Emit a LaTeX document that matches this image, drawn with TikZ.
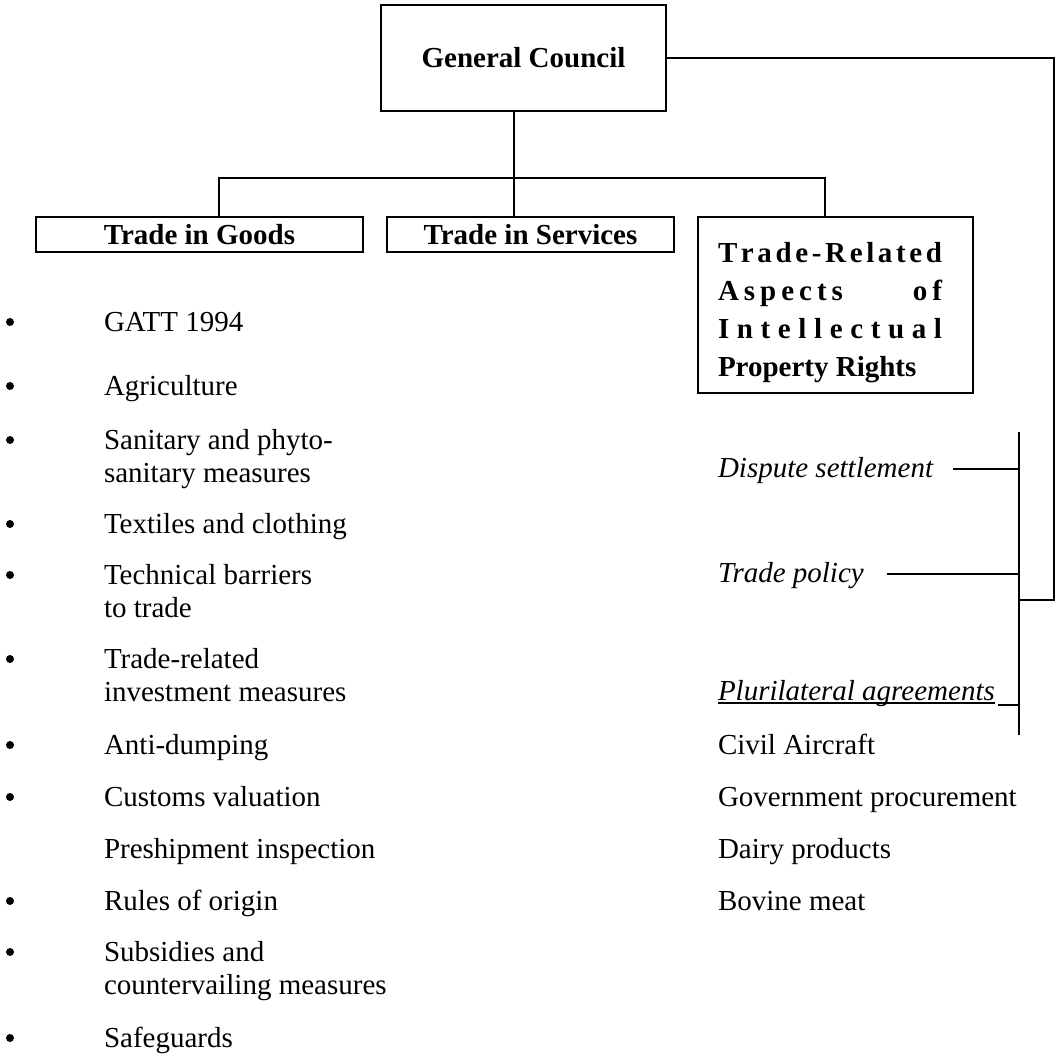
\documentclass[tikz,border=0pt]{standalone}
\usepackage{fontspec}
\setmainfont{Liberation Serif}
\begin{document}
\begin{tikzpicture}[x=1pt,y=-1pt,
  box/.style={draw, line width=2.7pt, inner sep=0pt, outer sep=0pt, font=\fontsize{29}{31}\selectfont\bfseries},
  conn/.style={line width=2.7pt},
  item/.style={anchor=base west, inner sep=0pt, outer sep=0pt, font=\fontsize{29}{31}\selectfont},
  ital/.style={anchor=base west, inner sep=0pt, outer sep=0pt, font=\fontsize{29}{31}\selectfont\itshape},
  bul/.style={circle, fill, inner sep=0pt, minimum size=8pt}]
\useasboundingbox (0,0) rectangle (1061,1062);

% boxes
\node[box, minimum width=285pt, minimum height=106pt] (gc) at (523.5,58) {General Council};
\node[box, minimum width=327pt, minimum height=35pt] (tig) at (199.5,234.5) {Trade in Goods};
\node[box, minimum width=287pt, minimum height=35pt] (tis) at (530.5,234.5) {Trade in Services};
\node[box, minimum width=275pt, minimum height=176pt] (trips) at (835.5,305)
  {\hspace*{-11pt}\parbox{224pt}{\vspace*{16pt}\fontsize{29}{38}\selectfont\bfseries
   \makebox[224pt][s]{T\hfil r\hfil a\hfil d\hfil e\hfil -\hfil R\hfil e\hfil l\hfil a\hfil t\hfil e\hfil d}\\
   \makebox[224pt][s]{A\kern5pt s\kern5pt p\kern5pt e\kern5pt c\kern5pt t\kern5pt s\hfill o\kern5pt f}\\
   \makebox[224pt][s]{I\hfil n\hfil t\hfil e\hfil l\hfil l\hfil e\hfil c\hfil t\hfil u\hfil a\hfil l}\\
   Property Rights}};

% tree connectors
\coordinate (tigx) at (219,0);
\coordinate (stemx) at (514,0);
\coordinate (tripsx) at (825,0);
\coordinate (busy) at (0,178);
\draw[conn] (gc.south -| stemx) -- (tis.north -| stemx);
\draw[conn] (tig.north -| tigx) -- (tigx |- busy) -- (tripsx |- busy) -- (trips.north -| tripsx);

% right loop and bracket
\coordinate (loopx) at (1054,0);
\coordinate (brx) at (1019,0);
\coordinate (loopy) at (0,600);
\coordinate (brtop) at (1019,432);
\coordinate (brbot) at (1019,735);
\draw[conn] (gc.east) -- (loopx |- gc.east) -- (loopx |- loopy) -- (brx |- loopy);
\draw[conn] (brtop) -- (brbot);

% left list
\foreach \nm/\yy/\tx in {gatt/331/GATT 1994, agri/395/Agriculture, san/449/Sanitary and phyto-,
  tex/533/Textiles and clothing, tech/584/Technical barriers, tr/668/Trade-related,
  anti/754/Anti-dumping, cust/806/Customs valuation, rules/910/Rules of origin,
  sub/961/Subsidies and, safe/1047/Safeguards}{
  \node[item] (\nm) at (104,\yy) {\tx};
  \node[bul] (b\nm) at (10,\yy-9) {};
}
\node[item] (san2) at (104,482) {sanitary measures};
\node[item] (tech2) at (104,617) {to trade};
\node[item] (tr2) at (104,701) {investment measures};
\node[item] (pre) at (104,858) {Preshipment inspection};
\node[item] (sub2) at (104,994) {countervailing measures};

% right column
\node[ital] (ds) at (718,477) {Dispute settlement};
\node[ital] (tp) at (718,582) {Trade policy};
\node[ital] (pa) at (718,700) {Plurilateral agreements};
\draw[line width=1.4pt] ([yshift=-3pt]pa.base west) -- ([yshift=-3pt]pa.base east);
\node[item] (civ) at (718,754) {Civil Aircraft};
\node[item] (gov) at (718,806) {Government procurement};
\node[item] (dai) at (718,858) {Dairy products};
\node[item] (bov) at (718,910) {Bovine meat};

\coordinate (dsd) at ([yshift=8pt]ds.base east);
\coordinate (tpd) at ([yshift=8pt]tp.base east);
\coordinate (pad) at ([yshift=-5pt]pa.base east);
\draw[conn] ([xshift=20pt]dsd) -- (dsd -| brx);
\draw[conn] ([xshift=23pt]tpd) -- (tpd -| brx);
\draw[conn] ([xshift=3pt]pad) -- (pad -| brx);
\end{tikzpicture}
\end{document}
